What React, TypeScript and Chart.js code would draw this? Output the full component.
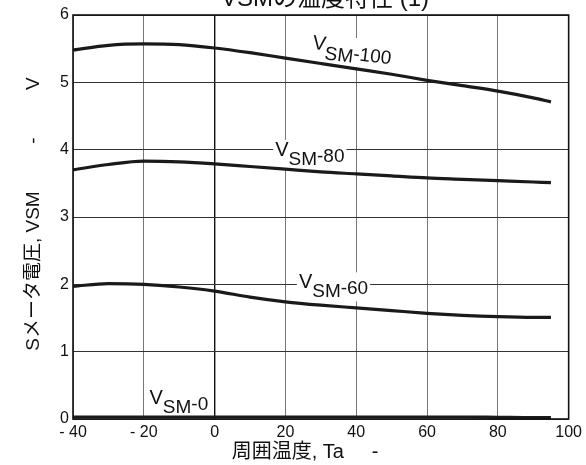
import React, { useEffect, useRef } from 'react';
import { Chart, registerables } from 'chart.js';

Chart.register(...registerables);

// ---- data ----
const temperatures = [-40, -30, -20, -10, 0, 10, 20, 30, 40, 50, 60, 70, 80, 90, 95];
const vsm100 = [5.48, 5.55, 5.57, 5.56, 5.51, 5.44, 5.36, 5.28, 5.2, 5.12, 5.03, 4.95, 4.87, 4.77, 4.71];
const vsm80 = [3.7, 3.78, 3.83, 3.82, 3.79, 3.75, 3.71, 3.67, 3.64, 3.61, 3.58, 3.56, 3.54, 3.52, 3.51];
const vsm60 = [1.97, 2.01, 2.0, 1.96, 1.9, 1.81, 1.74, 1.69, 1.65, 1.61, 1.57, 1.54, 1.52, 1.51, 1.51];
const vsm0 = [0.03, 0.03, 0.03, 0.03, 0.03, 0.03, 0.03, 0.03, 0.03, 0.03, 0.03, 0.03, 0.025, 0.02, 0.02];

const seriesSuffixes = ['-100', '-80', '-60', '-0'];
// label anchors in data coordinates (temperature, voltage) and rotation (deg)
const labelTemps = [27.5, 17.1, 23.8, -18.4];
const labelVolts = [5.5, 3.91, 1.94, 0.22];
const labelRotations = [7, 0, 0, 0];

const xTicks = [-40, -20, 0, 20, 40, 60, 80, 100];
const yTicks = [0, 1, 2, 3, 4, 5, 6];

const titleText = 'VSMの温度特性 (1)';
const yTitleText = 'Sメータ電圧, VSM         -         V';
const xTitleText = '周囲温度, Ta     -';

const FONT = '"Liberation Sans", Arial, "Noto Sans CJK JP", sans-serif';

function labelMetrics(ctx: CanvasRenderingContext2D, suf: string) {
  ctx.font = `20px ${FONT}`;
  const wV = ctx.measureText('V').width;
  ctx.font = `19px ${FONT}`;
  const wSM = ctx.measureText('SM').width;
  const wS = ctx.measureText(suf).width;
  return { wV, wSM, wS, total: wV + wSM + wS };
}

const overlayPlugin = {
  id: 'overlay',
  beforeDatasetsDraw(chart: any) {
    const { ctx, scales } = chart;
    ctx.save();
    seriesSuffixes.forEach((suf, i) => {
      const px = scales.x.getPixelForValue(labelTemps[i]);
      const py = scales.y.getPixelForValue(labelVolts[i]);
      const m = labelMetrics(ctx, suf);
      ctx.save();
      ctx.translate(px, py);
      ctx.rotate((labelRotations[i] * Math.PI) / 180);
      ctx.fillStyle = '#fff';
      ctx.fillRect(-2, -16, m.total + 4, 29);
      ctx.restore();
    });
    ctx.restore();
  },
  afterDraw(chart: any) {
    const { ctx, chartArea, scales } = chart;
    const xs = scales.x;
    const ys = scales.y;
    ctx.save();
    // frame
    ctx.strokeStyle = '#111';
    ctx.lineWidth = 1.6;
    ctx.strokeRect(chartArea.left, chartArea.top, chartArea.right - chartArea.left, chartArea.bottom - chartArea.top);

    // curve labels
    ctx.textBaseline = 'alphabetic';
    ctx.textAlign = 'left';
    seriesSuffixes.forEach((suf, i) => {
      const px = xs.getPixelForValue(labelTemps[i]);
      const py = ys.getPixelForValue(labelVolts[i]);
      const m = labelMetrics(ctx, suf);
      ctx.save();
      ctx.translate(px, py);
      ctx.rotate((labelRotations[i] * Math.PI) / 180);
      ctx.fillStyle = '#111';
      ctx.font = `20px ${FONT}`;
      ctx.fillText('V', 0, 0);
      ctx.font = `19px ${FONT}`;
      ctx.fillText('SM', m.wV, 9);
      ctx.fillText(suf, m.wV + m.wSM, 6);
      ctx.restore();
    });

    // top title (clipped by the top edge)
    ctx.fillStyle = '#111';
    ctx.font = `24px ${FONT}`;
    ctx.textAlign = 'center';
    ctx.textBaseline = 'alphabetic';
    ctx.fillText(titleText, 325, 6);

    // x title
    ctx.font = `20px ${FONT}`;
    ctx.textAlign = 'center';
    ctx.textBaseline = 'middle';
    ctx.fillText(xTitleText, 305, 452);

    // y title
    ctx.save();
    ctx.translate(34, 214);
    ctx.rotate(-Math.PI / 2);
    ctx.font = `19px ${FONT}`;
    ctx.fillText(yTitleText, 0, 0);
    ctx.restore();

    ctx.restore();
  },
};

export default function App() {
  const canvasRef = useRef<HTMLCanvasElement | null>(null);

  useEffect(() => {
    document.body.style.margin = '0';
    const canvas = canvasRef.current;
    if (!canvas) return;
    const mk = (data: number[]) => ({
      data: temperatures.map((t, i) => ({ x: t, y: data[i] })),
      borderColor: '#1a1a1a',
      borderWidth: 3.2,
      pointRadius: 0,
      cubicInterpolationMode: 'monotone' as const,
      fill: false,
    });
    const chart = new Chart(canvas, {
      type: 'line',
      data: {
        datasets: [mk(vsm100), mk(vsm80), mk(vsm60), mk(vsm0)],
      },
      options: {
        animation: false,
        responsive: false,
        maintainAspectRatio: false,
        layout: { padding: { top: 15, right: 15, left: 0, bottom: 0 } },
        plugins: {
          legend: { display: false },
          tooltip: { enabled: false },
          title: { display: false },
        },
        scales: {
          x: {
            type: 'linear',
            min: -40,
            max: 100,
            afterBuildTicks: (scale: any) => {
              scale.ticks = xTicks.map((v) => ({ value: v }));
            },
            afterFit: (scale: any) => {
              scale.height = 46;
            },
            ticks: {
              font: { family: FONT, size: 16 },
              color: '#111',
              padding: 4,
              maxRotation: 0,
              callback: (v: any) => (Number(v) < 0 ? '- ' + Math.abs(Number(v)) : String(v)),
            },
            grid: {
              drawTicks: false,
              color: (c: any) => (c.tick && c.tick.value === 0 ? '#111' : '#777'),
              lineWidth: (c: any) => (c.tick && c.tick.value === 0 ? 1.4 : 1),
            },
            border: { display: false },
          },
          y: {
            type: 'linear',
            min: 0,
            max: 6,
            afterBuildTicks: (scale: any) => {
              scale.ticks = yTicks.map((v) => ({ value: v }));
            },
            afterFit: (scale: any) => {
              scale.width = 73;
            },
            ticks: {
              font: { family: FONT, size: 16 },
              color: '#111',
              padding: 4,
            },
            grid: {
              drawTicks: false,
              color: '#333',
              lineWidth: 1,
            },
            border: { display: false },
          },
        },
      },
      plugins: [overlayPlugin],
    });
    return () => chart.destroy();
  }, []);

  return <canvas ref={canvasRef} width={586} height={465} style={{ display: 'block' }} />;
}
